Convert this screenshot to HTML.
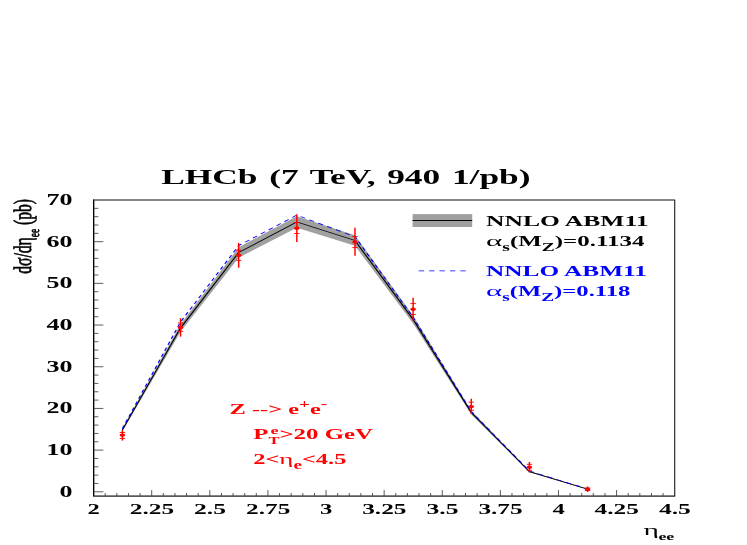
<!DOCTYPE html>
<html><head><meta charset="utf-8"><title>LHCb</title>
<style>
html,body{margin:0;padding:0;background:#fff;}
svg{display:block;will-change:transform;opacity:0.999;}
text{font-family:"Liberation Serif",serif;}
.b{font-weight:bold;}
</style></head><body>
<svg width="747" height="545" viewBox="0 0 747 545">
<rect x="0" y="0" width="747" height="545" fill="#fff"/>
<g transform="scale(1.65,1)">
<polygon points="74.17,428.6 109.41,324.3 144.65,247.3 179.89,216.2 215.14,235.3 250.38,315.6 285.62,410.6 320.86,470.9 356.11,488.9 356.11,489.5 320.86,472.3 285.62,414.4 250.38,323.4 215.14,245.7 179.89,227.8 144.65,257.7 109.41,331.7 74.17,431.4" fill="#a0a0a0"/>
<polyline fill="none" stroke="#000" stroke-width="0.75" points="74.17,430.0 109.41,328.0 144.65,252.5 179.89,222.0 215.14,240.5 250.38,319.5 285.62,412.5 320.86,471.6 356.11,489.2"/>
<polyline fill="none" stroke="#0000ff" stroke-width="0.78" stroke-dasharray="3.3 3.0" points="74.17,428.6 109.41,322.0 144.65,245.6 179.89,215.1 215.14,236.7 250.38,317.2 285.62,411.6 320.86,471.0 356.11,489.0"/>
<rect x="56.73" y="200.0" width="352.18" height="296.0" fill="none" stroke="#2a2a2a" stroke-width="0.72"/>
<polyline points="56.73,199.6 56.73,496.0 409.21,496.0" fill="none" stroke="#000" stroke-width="0.75"/>
<line x1="56.73" y1="200.0" x2="408.91" y2="200.0" stroke="#444" stroke-width="0.6"/>
<g stroke="#333" stroke-width="0.6" fill="none">
<line x1="56.73" y1="491.80" x2="62.63" y2="491.80"/>
<line x1="56.73" y1="483.46" x2="59.63" y2="483.46"/>
<line x1="56.73" y1="475.13" x2="59.63" y2="475.13"/>
<line x1="56.73" y1="466.79" x2="59.63" y2="466.79"/>
<line x1="56.73" y1="458.45" x2="59.63" y2="458.45"/>
<line x1="56.73" y1="450.11" x2="62.63" y2="450.11"/>
<line x1="56.73" y1="441.78" x2="59.63" y2="441.78"/>
<line x1="56.73" y1="433.44" x2="59.63" y2="433.44"/>
<line x1="56.73" y1="425.10" x2="59.63" y2="425.10"/>
<line x1="56.73" y1="416.77" x2="59.63" y2="416.77"/>
<line x1="56.73" y1="408.43" x2="62.63" y2="408.43"/>
<line x1="56.73" y1="400.09" x2="59.63" y2="400.09"/>
<line x1="56.73" y1="391.75" x2="59.63" y2="391.75"/>
<line x1="56.73" y1="383.42" x2="59.63" y2="383.42"/>
<line x1="56.73" y1="375.08" x2="59.63" y2="375.08"/>
<line x1="56.73" y1="366.74" x2="62.63" y2="366.74"/>
<line x1="56.73" y1="358.41" x2="59.63" y2="358.41"/>
<line x1="56.73" y1="350.07" x2="59.63" y2="350.07"/>
<line x1="56.73" y1="341.73" x2="59.63" y2="341.73"/>
<line x1="56.73" y1="333.39" x2="59.63" y2="333.39"/>
<line x1="56.73" y1="325.06" x2="62.63" y2="325.06"/>
<line x1="56.73" y1="316.72" x2="59.63" y2="316.72"/>
<line x1="56.73" y1="308.38" x2="59.63" y2="308.38"/>
<line x1="56.73" y1="300.05" x2="59.63" y2="300.05"/>
<line x1="56.73" y1="291.71" x2="59.63" y2="291.71"/>
<line x1="56.73" y1="283.37" x2="62.63" y2="283.37"/>
<line x1="56.73" y1="275.03" x2="59.63" y2="275.03"/>
<line x1="56.73" y1="266.70" x2="59.63" y2="266.70"/>
<line x1="56.73" y1="258.36" x2="59.63" y2="258.36"/>
<line x1="56.73" y1="250.02" x2="59.63" y2="250.02"/>
<line x1="56.73" y1="241.69" x2="62.63" y2="241.69"/>
<line x1="56.73" y1="233.35" x2="59.63" y2="233.35"/>
<line x1="56.73" y1="225.01" x2="59.63" y2="225.01"/>
<line x1="56.73" y1="216.67" x2="59.63" y2="216.67"/>
<line x1="56.73" y1="208.34" x2="59.63" y2="208.34"/>
<line x1="63.77" y1="496.0" x2="63.77" y2="493.0"/>
<line x1="70.81" y1="496.0" x2="70.81" y2="493.0"/>
<line x1="77.86" y1="496.0" x2="77.86" y2="493.0"/>
<line x1="84.90" y1="496.0" x2="84.90" y2="493.0"/>
<line x1="91.95" y1="496.0" x2="91.95" y2="490.0"/>
<line x1="98.99" y1="496.0" x2="98.99" y2="493.0"/>
<line x1="106.03" y1="496.0" x2="106.03" y2="493.0"/>
<line x1="113.08" y1="496.0" x2="113.08" y2="493.0"/>
<line x1="120.12" y1="496.0" x2="120.12" y2="493.0"/>
<line x1="127.16" y1="496.0" x2="127.16" y2="490.0"/>
<line x1="134.21" y1="496.0" x2="134.21" y2="493.0"/>
<line x1="141.25" y1="496.0" x2="141.25" y2="493.0"/>
<line x1="148.29" y1="496.0" x2="148.29" y2="493.0"/>
<line x1="155.34" y1="496.0" x2="155.34" y2="493.0"/>
<line x1="162.38" y1="496.0" x2="162.38" y2="490.0"/>
<line x1="169.43" y1="496.0" x2="169.43" y2="493.0"/>
<line x1="176.47" y1="496.0" x2="176.47" y2="493.0"/>
<line x1="183.51" y1="496.0" x2="183.51" y2="493.0"/>
<line x1="190.56" y1="496.0" x2="190.56" y2="493.0"/>
<line x1="197.60" y1="496.0" x2="197.60" y2="490.0"/>
<line x1="204.64" y1="496.0" x2="204.64" y2="493.0"/>
<line x1="211.69" y1="496.0" x2="211.69" y2="493.0"/>
<line x1="218.73" y1="496.0" x2="218.73" y2="493.0"/>
<line x1="225.77" y1="496.0" x2="225.77" y2="493.0"/>
<line x1="232.82" y1="496.0" x2="232.82" y2="490.0"/>
<line x1="239.86" y1="496.0" x2="239.86" y2="493.0"/>
<line x1="246.91" y1="496.0" x2="246.91" y2="493.0"/>
<line x1="253.95" y1="496.0" x2="253.95" y2="493.0"/>
<line x1="260.99" y1="496.0" x2="260.99" y2="493.0"/>
<line x1="268.04" y1="496.0" x2="268.04" y2="490.0"/>
<line x1="275.08" y1="496.0" x2="275.08" y2="493.0"/>
<line x1="282.12" y1="496.0" x2="282.12" y2="493.0"/>
<line x1="289.17" y1="496.0" x2="289.17" y2="493.0"/>
<line x1="296.21" y1="496.0" x2="296.21" y2="493.0"/>
<line x1="303.25" y1="496.0" x2="303.25" y2="490.0"/>
<line x1="310.30" y1="496.0" x2="310.30" y2="493.0"/>
<line x1="317.34" y1="496.0" x2="317.34" y2="493.0"/>
<line x1="324.39" y1="496.0" x2="324.39" y2="493.0"/>
<line x1="331.43" y1="496.0" x2="331.43" y2="493.0"/>
<line x1="338.47" y1="496.0" x2="338.47" y2="490.0"/>
<line x1="345.52" y1="496.0" x2="345.52" y2="493.0"/>
<line x1="352.56" y1="496.0" x2="352.56" y2="493.0"/>
<line x1="359.60" y1="496.0" x2="359.60" y2="493.0"/>
<line x1="366.65" y1="496.0" x2="366.65" y2="493.0"/>
<line x1="373.69" y1="496.0" x2="373.69" y2="490.0"/>
<line x1="380.73" y1="496.0" x2="380.73" y2="493.0"/>
<line x1="387.78" y1="496.0" x2="387.78" y2="493.0"/>
<line x1="394.82" y1="496.0" x2="394.82" y2="493.0"/>
<line x1="401.87" y1="496.0" x2="401.87" y2="493.0"/>
</g>
<g stroke="#ff0000" stroke-width="0.88" fill="#ff0000">
<line x1="74.17" y1="430.1" x2="74.17" y2="440.6"/><line x1="72.52" y1="432.5" x2="75.82" y2="432.5"/><line x1="72.52" y1="438.4" x2="75.82" y2="438.4"/><circle cx="74.17" cy="435.1" r="1.7" stroke="none"/>
<line x1="109.41" y1="318.2" x2="109.41" y2="336.7"/><line x1="107.76" y1="323.0" x2="111.06" y2="323.0"/><line x1="107.76" y1="331.3" x2="111.06" y2="331.3"/><circle cx="109.41" cy="327.4" r="1.7" stroke="none"/>
<line x1="144.65" y1="242.9" x2="144.65" y2="267.7"/><line x1="143.00" y1="250.2" x2="146.30" y2="250.2"/><line x1="143.00" y1="260.3" x2="146.30" y2="260.3"/><circle cx="144.65" cy="255.3" r="1.7" stroke="none"/>
<line x1="179.89" y1="214.2" x2="179.89" y2="242.0"/><line x1="178.24" y1="222.5" x2="181.54" y2="222.5"/><line x1="178.24" y1="233.5" x2="181.54" y2="233.5"/><circle cx="179.89" cy="228.3" r="1.7" stroke="none"/>
<line x1="215.14" y1="227.8" x2="215.14" y2="255.8"/><line x1="213.49" y1="236.6" x2="216.79" y2="236.6"/><line x1="213.49" y1="247.6" x2="216.79" y2="247.6"/><circle cx="215.14" cy="241.9" r="1.7" stroke="none"/>
<line x1="250.38" y1="297.8" x2="250.38" y2="320.8"/><line x1="248.73" y1="303.6" x2="252.03" y2="303.6"/><line x1="248.73" y1="314.5" x2="252.03" y2="314.5"/><circle cx="250.38" cy="309.3" r="1.7" stroke="none"/>
<line x1="285.62" y1="398.8" x2="285.62" y2="413.9"/><line x1="283.97" y1="402.2" x2="287.27" y2="402.2"/><line x1="283.97" y1="410.2" x2="287.27" y2="410.2"/><circle cx="285.62" cy="406.6" r="1.7" stroke="none"/>
<line x1="320.86" y1="462.0" x2="320.86" y2="472.5"/><line x1="319.21" y1="464.3" x2="322.51" y2="464.3"/><line x1="319.21" y1="470.2" x2="322.51" y2="470.2"/><circle cx="320.86" cy="467.3" r="1.7" stroke="none"/>
<line x1="356.11" y1="486.5" x2="356.11" y2="492.0"/><line x1="354.46" y1="488.0" x2="357.76" y2="488.0"/><line x1="354.46" y1="490.4" x2="357.76" y2="490.4"/><circle cx="356.11" cy="489.2" r="1.7" stroke="none"/>
</g>
<rect x="250.06" y="214.1" width="36.12" height="12.9" fill="#a0a0a0"/>
<line x1="250.06" y1="220.4" x2="286.18" y2="220.4" stroke="#000" stroke-width="1.0"/>
<line x1="253.76" y1="270.9" x2="282.30" y2="270.9" stroke="#0000ff" stroke-width="0.9" stroke-dasharray="3.3 3.0"/>
</g>
<text class="b" x="161.2" y="183.6" font-size="20.4" fill="#000" textLength="369.4" lengthAdjust="spacingAndGlyphs" word-spacing="1.6">LHCb (7 TeV, 940 1/pb)</text>
<text class="b" x="59.4" y="496.6" font-size="15.7" fill="#000" textLength="13.0" lengthAdjust="spacingAndGlyphs" >0</text>
<text class="b" x="46.4" y="454.9" font-size="15.7" fill="#000" textLength="26.0" lengthAdjust="spacingAndGlyphs" >10</text>
<text class="b" x="46.4" y="413.2" font-size="15.7" fill="#000" textLength="26.0" lengthAdjust="spacingAndGlyphs" >20</text>
<text class="b" x="46.4" y="371.5" font-size="15.7" fill="#000" textLength="26.0" lengthAdjust="spacingAndGlyphs" >30</text>
<text class="b" x="46.4" y="329.9" font-size="15.7" fill="#000" textLength="26.0" lengthAdjust="spacingAndGlyphs" >40</text>
<text class="b" x="46.4" y="288.2" font-size="15.7" fill="#000" textLength="26.0" lengthAdjust="spacingAndGlyphs" >50</text>
<text class="b" x="46.4" y="246.5" font-size="15.7" fill="#000" textLength="26.0" lengthAdjust="spacingAndGlyphs" >60</text>
<text class="b" x="46.4" y="204.8" font-size="15.7" fill="#000" textLength="26.0" lengthAdjust="spacingAndGlyphs" >70</text>
<text class="b" x="87.6" y="514.0" font-size="15.6" fill="#000" textLength="12.3" lengthAdjust="spacingAndGlyphs" >2</text>
<text class="b" x="129.8" y="514.0" font-size="15.6" fill="#000" textLength="44.3" lengthAdjust="spacingAndGlyphs" >2.25</text>
<text class="b" x="194.0" y="514.0" font-size="15.6" fill="#000" textLength="32.0" lengthAdjust="spacingAndGlyphs" >2.5</text>
<text class="b" x="246.0" y="514.0" font-size="15.6" fill="#000" textLength="44.3" lengthAdjust="spacingAndGlyphs" >2.75</text>
<text class="b" x="320.1" y="514.0" font-size="15.6" fill="#000" textLength="12.3" lengthAdjust="spacingAndGlyphs" >3</text>
<text class="b" x="362.2" y="514.0" font-size="15.6" fill="#000" textLength="44.3" lengthAdjust="spacingAndGlyphs" >3.25</text>
<text class="b" x="426.5" y="514.0" font-size="15.6" fill="#000" textLength="32.0" lengthAdjust="spacingAndGlyphs" >3.5</text>
<text class="b" x="478.4" y="514.0" font-size="15.6" fill="#000" textLength="44.3" lengthAdjust="spacingAndGlyphs" >3.75</text>
<text class="b" x="552.5" y="514.0" font-size="15.6" fill="#000" textLength="12.3" lengthAdjust="spacingAndGlyphs" >4</text>
<text class="b" x="594.6" y="514.0" font-size="15.6" fill="#000" textLength="44.3" lengthAdjust="spacingAndGlyphs" >4.25</text>
<text class="b" x="658.9" y="514.0" font-size="15.6" fill="#000" textLength="32.0" lengthAdjust="spacingAndGlyphs" >4.5</text>
<g transform="translate(486.00,225.70)" fill="#000" >
<text transform="translate(0.00,0.00) scale(1.7272,1)" font-size="14.80" font-weight="bold" xml:space="preserve">NNLO ABM11</text>
</g>
<g transform="translate(486.00,245.70)" fill="#000" >
<text transform="translate(0.00,0.00) scale(2.1052,1)" font-size="14.80" font-weight="normal" xml:space="preserve">α</text>
<text transform="translate(16.35,5.20) scale(1.6842,1)" font-size="11.54" font-weight="bold" xml:space="preserve">s</text>
<text transform="translate(23.93,0.00) scale(1.6842,1)" font-size="14.80" font-weight="bold" xml:space="preserve">(M</text>
<text transform="translate(55.77,5.20) scale(1.6842,1)" font-size="11.54" font-weight="bold" xml:space="preserve">Z</text>
<text transform="translate(68.74,0.00) scale(1.6842,1)" font-size="14.80" font-weight="bold" xml:space="preserve">)=0.1134</text>
</g>
<g transform="translate(486.00,275.70)" fill="#0000ff" >
<text transform="translate(0.00,0.00) scale(1.7102,1)" font-size="14.80" font-weight="bold" xml:space="preserve">NNLO ABM11</text>
</g>
<g transform="translate(486.00,295.80)" fill="#0000ff" >
<text transform="translate(0.00,0.00) scale(2.0843,1)" font-size="14.80" font-weight="normal" xml:space="preserve">α</text>
<text transform="translate(16.19,5.20) scale(1.6674,1)" font-size="11.54" font-weight="bold" xml:space="preserve">s</text>
<text transform="translate(23.69,0.00) scale(1.6674,1)" font-size="14.80" font-weight="bold" xml:space="preserve">(M</text>
<text transform="translate(55.21,5.20) scale(1.6674,1)" font-size="11.54" font-weight="bold" xml:space="preserve">Z</text>
<text transform="translate(68.06,0.00) scale(1.6674,1)" font-size="14.80" font-weight="bold" xml:space="preserve">)=0.118</text>
</g>
<g transform="translate(229.60,413.70)" fill="#ff0000" >
<text transform="translate(0.00,0.00) scale(1.6490,1)" font-size="14.80" font-weight="bold" xml:space="preserve">Z --&gt; e</text>
<text transform="translate(69.47,-5.50) scale(1.6490,1)" font-size="11.54" font-weight="bold" xml:space="preserve">+</text>
<text transform="translate(80.31,0.00) scale(1.6490,1)" font-size="14.80" font-weight="bold" xml:space="preserve">e</text>
<text transform="translate(91.16,-5.50) scale(1.6490,1)" font-size="11.54" font-weight="bold" xml:space="preserve">-</text>
</g>
<g transform="translate(253.20,438.60)" fill="#ff0000" >
<text transform="translate(0.00,0.00) scale(1.6818,1)" font-size="14.80" font-weight="bold" xml:space="preserve">P</text>
<text transform="translate(17.22,-4.80) scale(1.6818,1)" font-size="10.80" font-weight="bold" xml:space="preserve">e</text>
<text transform="translate(15.22,5.60) scale(1.5473,1)" font-size="10.66" font-weight="bold" xml:space="preserve">T</text>
<text transform="translate(26.22,0.00) scale(1.6818,1)" font-size="14.80" font-weight="bold" xml:space="preserve">&gt;20 GeV</text>
</g>
<g transform="translate(253.20,463.50)" fill="#ff0000" >
<text transform="translate(0.00,0.00) scale(1.6516,1)" font-size="14.80" font-weight="bold" xml:space="preserve">2&lt;</text>
<text transform="translate(26.17,0.00) scale(1.8167,1)" font-size="14.80" font-weight="normal" xml:space="preserve">η</text>
<text transform="translate(40.25,5.00) scale(1.6516,1)" font-size="11.54" font-weight="bold" xml:space="preserve">e</text>
<text transform="translate(48.71,0.00) scale(1.6516,1)" font-size="14.80" font-weight="bold" xml:space="preserve">&lt;4.5</text>
</g>
<g transform="translate(643.60,534.80)" fill="#000" >
<text transform="translate(0.00,0.00) scale(1.9050,1)" font-size="15.50" font-weight="normal" xml:space="preserve">η</text>
<text transform="translate(14.85,5.30) scale(1.6002,1)" font-size="11.16" font-weight="bold" xml:space="preserve">ee</text>
</g>
<g transform="translate(31.30,273.70) rotate(-90)" fill="#000" stroke="#000" stroke-width="0.7" style="text-rendering:geometricPrecision">
<text transform="translate(0.00,0.00) scale(0.6184,1)" font-size="25.20" font-weight="normal" xml:space="preserve">dσ/dη</text>
<text transform="translate(36.45,8.00) scale(0.6184,1)" font-size="15.12" font-weight="normal" xml:space="preserve">ee</text>
<text transform="translate(44.75,0.00) scale(0.6184,1)" font-size="25.20" font-weight="normal" xml:space="preserve"> (pb)</text>
</g>
</svg></body></html>
